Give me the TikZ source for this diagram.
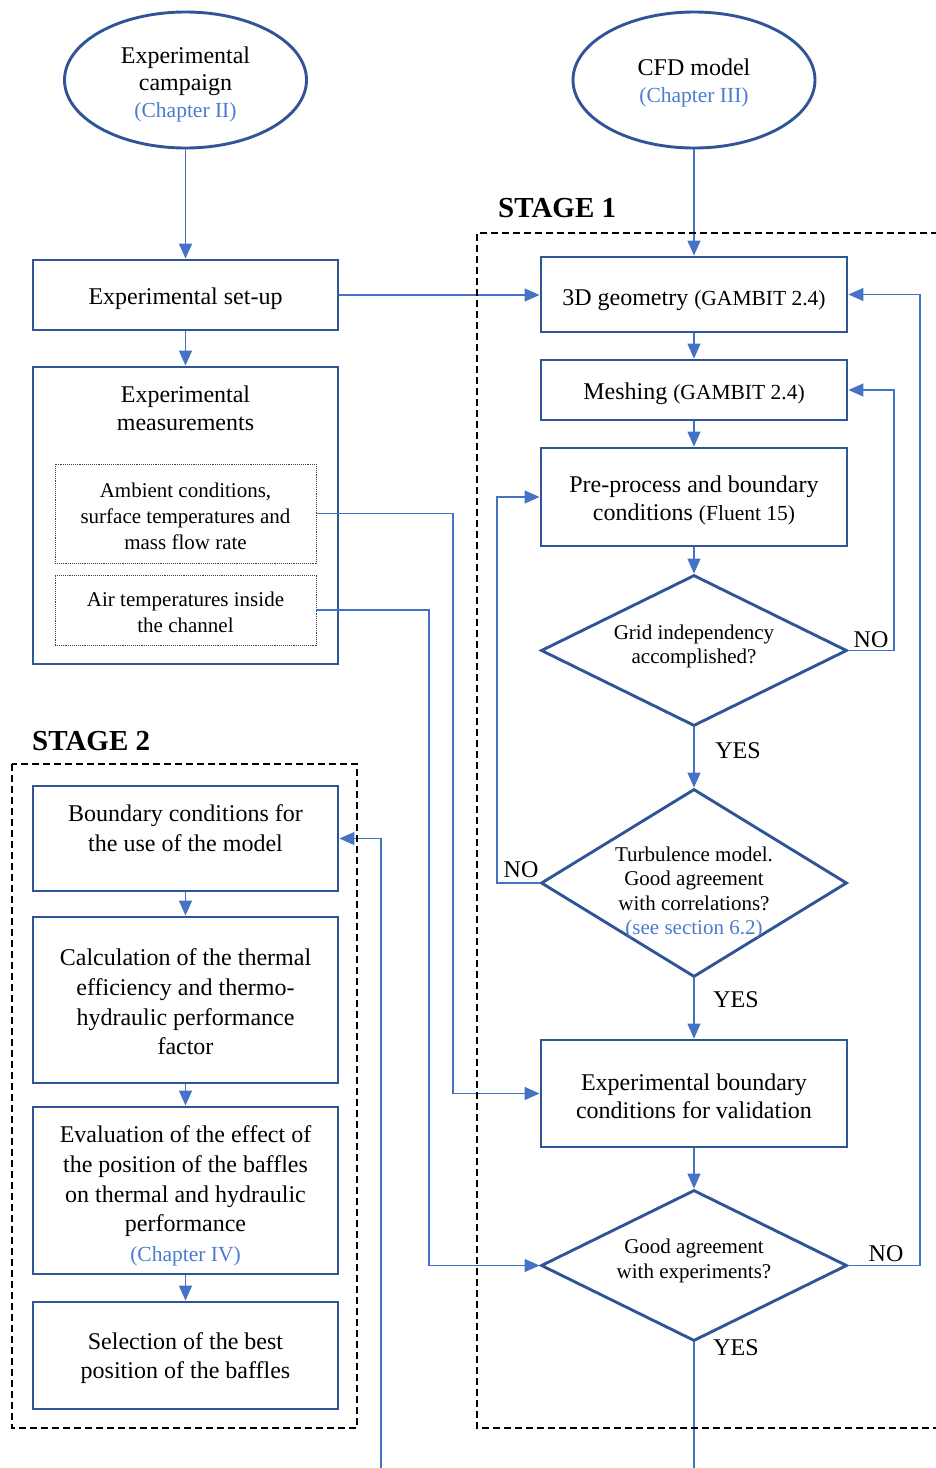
\documentclass[tikz,border=0pt]{standalone}
\usepackage{fontspec}
\setmainfont{Liberation Serif}
\usetikzlibrary{shapes.geometric,arrows.meta}
\definecolor{bord}{HTML}{2F5597}
\definecolor{connc}{HTML}{4472C4}
\definecolor{bluetxt}{HTML}{4A7BD0}
\begin{document}
\begin{tikzpicture}[x=1pt,y=-1pt,
  box/.style={draw=bord, line width=2.9pt, rectangle, inner sep=0pt, align=center, minimum width=305pt, font=\fontsize{24}{28}\selectfont},
  boxtwo/.style={box, font=\fontsize{24}{29.7}\selectfont},
  txt/.style={inner sep=0pt, align=center, font=\fontsize{24}{28}\selectfont},
  txttwo/.style={inner sep=0pt, align=center, font=\fontsize{24}{29.7}\selectfont},
  dbox/.style={draw=black!75, densely dotted, line width=0.9pt, inner sep=0pt, align=center, minimum width=261pt, font=\fontsize{21}{26}\selectfont},
  ell/.style={draw=bord, line width=2.9pt, ellipse, inner sep=0pt, minimum width=242pt, minimum height=136pt},
  etxt/.style={inner sep=0pt, align=center, font=\fontsize{24}{27}\selectfont},
  dia/.style={draw=bord, line width=2.9pt, diamond, inner sep=0pt, minimum width=306pt},
  dtxt/.style={inner sep=0pt, align=center, font=\fontsize{21}{24.5}\selectfont},
  cline/.style={draw=connc, line width=1.4pt},
  arr/.style={cline, -{Triangle[length=15pt,width=13pt]}},
  lbl/.style={inner sep=0pt, font=\fontsize{24}{28}\selectfont},
  stagelbl/.style={inner sep=0pt, anchor=west, font=\bfseries\fontsize{29}{34}\selectfont},
  dashedbox/.style={draw=black, line width=2.9pt, dash pattern=on 7pt off 4pt}]
\useasboundingbox (0,0) rectangle (935,1468);

% top ellipses
\node[ell] (camp) at (185.5,80) {};
\node[etxt] (campt) at (185.5,84.5) {Experimental\\campaign\\{\fontsize{21.5}{26}\selectfont\color{bluetxt}(Chapter II)}};
\node[ell] (cfd) at (694,80) {};
\node[etxt] (cfdt) at (694,83) {CFD model\\{\fontsize{21.5}{26}\selectfont\color{bluetxt}(Chapter III)}};

% left experimental column
\node[box, minimum height=70pt] (setup) at (185.5,295) {};
\node[txt] (setupt) at (185.5,299) {Experimental set-up};
\node[box, minimum height=297pt] (meas) at (185.5,515.5) {};
\node[txt] (meastitle) at (185.5,408) {Experimental\\measurements};
\node[dbox, minimum height=99pt] (amb) at (185.5,513.5) {};
\node[dbox, font=\fontsize{21}{26}\selectfont, draw=none] (ambt) at (185.5,516) {Ambient conditions,\\surface temperatures and\\mass flow rate};
\node[dbox, minimum height=70pt] (air) at (185.5,610) {};
\node[dbox, draw=none] (airt) at (185.5,612) {Air temperatures inside\\the channel};

% stage 1
\node[stagelbl] (s1) at (498,208) {STAGE 1};

\node[box, minimum width=306pt, minimum height=75pt] (geo) at (694,294.5) {};
\node[txt] (geot) at (694,300) {3D geometry {\fontsize{21.5}{26}\selectfont(GAMBIT 2.4)}};
\node[box, minimum width=306pt, minimum height=60pt] (mesh) at (694,390) {};
\node[txt] (mesht) at (694,394) {Meshing {\fontsize{21.5}{26}\selectfont(GAMBIT 2.4)}};
\node[box, minimum width=306pt, minimum height=98pt] (pre) at (694,497) {};
\node[txt] (pret) at (694,500) {Pre-process and boundary\\conditions {\fontsize{21.5}{26}\selectfont(Fluent 15)}};
\node[dia, minimum height=151pt] (d1) at (694,650.5) {};
\node[dtxt] (d1t) at (694,646.5) {Grid independency\\accomplished?};
\node[dia, minimum height=188pt] (d2) at (694,883) {};
\node[dtxt] (d2t) at (694,893) {Turbulence model.\\Good agreement\\with correlations?\\{\color{bluetxt}(see section 6.2)}};
\node[box, minimum width=306pt, minimum height=107pt] (expbc) at (694,1093.5) {};
\node[txt] (expbct) at (694,1096) {Experimental boundary\\conditions for validation};
\node[dia, minimum height=151pt] (d3) at (694,1265.5) {};
\node[dtxt] (d3t) at (694,1261) {Good agreement\\with experiments?};

% yes / no labels
\node[lbl] (no1) at (871,640) {NO};
\node[lbl] (yes1) at (738,751) {YES};
\node[lbl] (no2) at (521,870) {NO};
\node[lbl] (yes2) at (736,1000) {YES};
\node[lbl] (no3) at (886,1254) {NO};
\node[lbl] (yes3) at (736,1348) {YES};

% stage 2
\node[stagelbl] (s2) at (32,741) {STAGE 2};
\node[boxtwo, minimum height=105pt] (bc) at (185.5,838.5) {};
\node[txttwo] (bct) at (185.5,828) {Boundary conditions for\\the use of the model};
\node[boxtwo, minimum height=166pt] (calc) at (185.5,1000) {};
\node[txttwo] (calct) at (185.5,1002) {Calculation of the thermal\\efficiency and thermo-\\hydraulic performance\\factor};
\node[boxtwo, minimum height=167pt] (eval) at (185.5,1190.5) {};
\node[txttwo] (evalt) at (185.5,1196) {Evaluation of the effect of\\the position of the baffles\\on thermal and hydraulic\\performance\\{\fontsize{21.5}{27}\selectfont\color{bluetxt}(Chapter IV)}};
\node[boxtwo, minimum height=107pt] (sel) at (185.5,1355.5) {};
\node[txttwo] (selt) at (185.5,1358) {Selection of the best\\position of the baffles};

\coordinate (yesout) at (694,1468);
\coordinate (bcin) at (381,1468);

% connectors
\draw[arr] (camp.south) -- (setup.north);
\draw[arr] (setup.south) -- (meas.north);
\draw[arr] (cfd.south) -- (geo.north);
\draw[arr] (setup.east) -- (geo.west |- setup.east);
\draw[arr] (geo.south) -- (mesh.north);
\draw[arr] (mesh.south) -- (pre.north);
\draw[arr] (pre.south) -- (d1.north);
\draw[arr] (d1.south) -- (d2.north);
\draw[arr] (d2.south) -- (expbc.north);
\draw[arr] (expbc.south) -- (d3.north);
\draw[arr] (d1.east) -- (894,650.5) |- (mesh.east);
\draw[arr] (d2.west) -- (497,883) |- (pre.west);
\draw[arr] (d3.east) -- (920,1265.5) |- (geo.east);
\draw[arr] (amb.east) -- (453,513.5) |- (expbc.west);
\draw[arr] (air.east) -- (429,610) |- (d3.west);
\draw[cline] (d3.south) -- (yesout);
\draw[arr] (bcin) |- (bc.east);
\draw[arr] (bc.south) -- (calc.north);
\draw[arr] (calc.south) -- (eval.north);
\draw[arr] (eval.south) -- (sel.north);

% dashed stage frames
\draw[dashedbox] (960,233) -- (477,233) -- (477,1428) -- (960,1428);
\draw[dashedbox] (12,764) rectangle (357,1428);
\end{tikzpicture}
\end{document}
